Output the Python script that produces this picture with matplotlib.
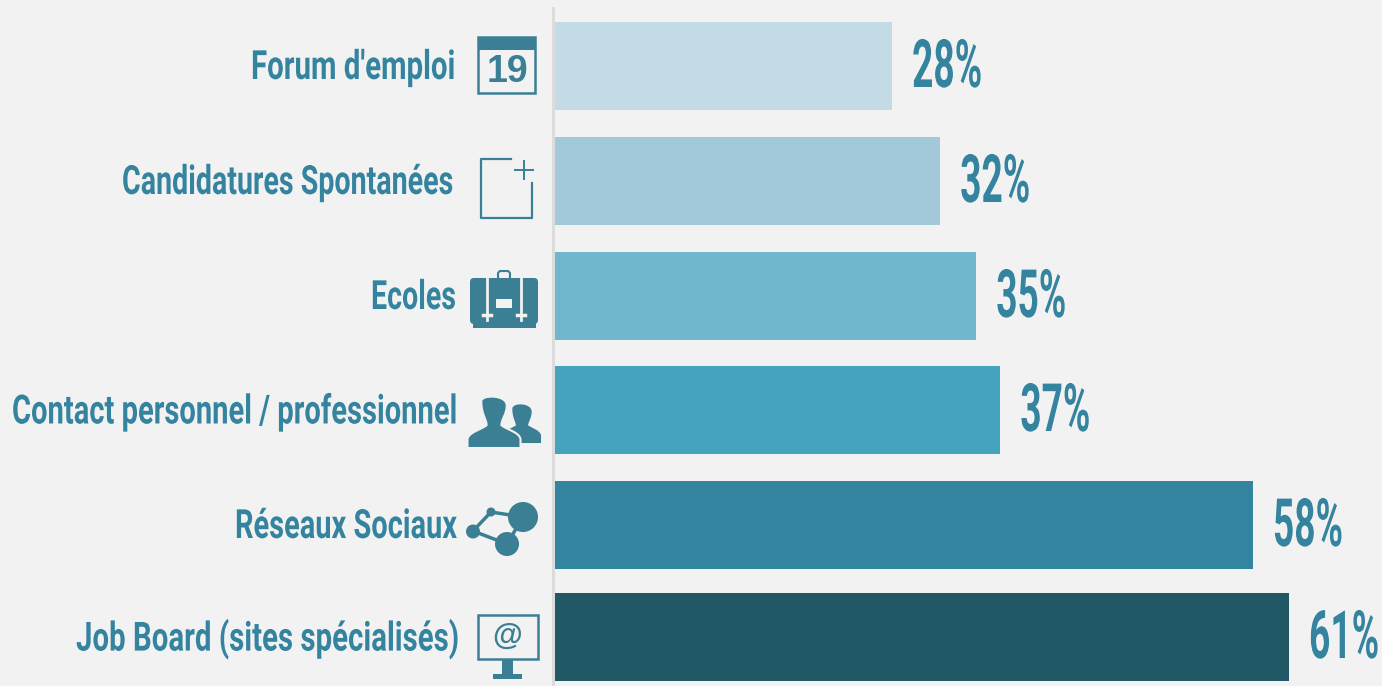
import matplotlib
matplotlib.use('Agg')
import matplotlib.pyplot as plt
from matplotlib.patches import Rectangle, Circle, FancyBboxPatch, PathPatch
from matplotlib.path import Path
from matplotlib.patheffects import AbstractPathEffect
from matplotlib.transforms import Affine2D

categories = ["Forum d'emploi", "Candidatures Spontanées", "Ecoles",
              "Contact personnel / professionnel", "Réseaux Sociaux",
              "Job Board (sites spécialisés)"]
values = [28, 32, 35, 37, 58, 61]
bar_colors = ['#c2dbe5', '#a2c9da', '#70b6ce', '#46a3bf', '#33849f', '#205866']

# layout, in pixels of the picture
bar_centers = [66, 181, 296, 410, 525, 637]
bar_height = 88
label_left = [251, 122, 371, 12, 235, 76]
label_right = [455, 453, 456, 457, 457, 459]
px_per_percent = 12.03

BG = '#f2f2f2'
TEXT = '#34849f'
ICON = '#3b7f95'
FONT = ['Roboto', 'Liberation Sans', 'DejaVu Sans']


class Squeeze(AbstractPathEffect):
    # narrows a text around its left edge, no condensed face is installed
    def __init__(self, x0, sx):
        super().__init__()
        self.x0 = x0
        self.sx = sx

    def draw_path(self, renderer, gc, tpath, affine, rgbFace=None):
        squeeze = Affine2D().translate(-self.x0, 0).scale(self.sx, 1).translate(self.x0, 0)
        renderer.draw_path(gc, tpath, affine + squeeze, rgbFace)


def fit_text(axis, x_left, width, y, s, size):
    t = axis.text(x_left, y, s, color=TEXT, fontsize=size, fontweight='bold',
                  family=FONT, ha='left', va='center', clip_on=False)
    natural = t.get_window_extent(fig.canvas.get_renderer()).width
    x0 = axis.transData.transform((x_left, y))[0]
    t.set_path_effects([Squeeze(x0, width / natural)])
    return t


fig = plt.figure(figsize=(13.82, 6.86), dpi=100, facecolor=BG)

# bars, x axis in percent
ax = fig.add_axes([555 / 1382, 0, 827 / 1382, 1])
ax.set_xlim(0, 827 / px_per_percent)
ax.set_ylim(686, 0)
ax.axis('off')
ax.barh(bar_centers, values, height=bar_height, color=bar_colors, linewidth=0)
for c, v in zip(bar_centers, values):
    fit_text(ax, v + 1.68, 70, c + 3, f'{v}%', 48)

# overlay in picture pixels for labels, divider and icons
ov = fig.add_axes([0, 0, 1, 1])
ov.set_xlim(0, 1382)
ov.set_ylim(686, 0)
ov.axis('off')
ov.patch.set_alpha(0)

ov.add_patch(Rectangle((552, 7), 3, 679, color='#dcdcdc', lw=0))

for name, c, l, r in zip(categories, bar_centers, label_left, label_right):
    fit_text(ov, l, r - l, c + 2, name, 29)


def calendar():
    ov.add_patch(Rectangle((478, 37), 57, 56, fc='none', ec=ICON, lw=1.8))
    ov.add_patch(Rectangle((478, 37), 57, 13, fc=ICON, lw=0))
    ov.text(507, 72, '19', color=ICON, fontsize=27, fontweight='bold',
            family=['Liberation Sans', 'DejaVu Sans'], ha='center', va='center')


def new_page():
    ov.plot([511, 481, 481, 532, 532], [159, 159, 218, 218, 183], color=ICON, lw=1.6)
    ov.plot([515, 533], [170, 170], color=ICON, lw=1.4)
    ov.plot([524, 524], [161, 179], color=ICON, lw=1.4)


def briefcase():
    ov.add_patch(FancyBboxPatch((470, 278), 68, 46, boxstyle='round,pad=0,rounding_size=4', fc=ICON, lw=0))
    ov.add_patch(Rectangle((473, 300), 63, 28, fc=ICON, lw=0))
    ov.add_patch(FancyBboxPatch((498, 271), 12, 9, boxstyle='round,pad=0,rounding_size=3', fc='none', ec=ICON, lw=1.5))
    for x in (487, 521):
        ov.plot([x, x], [278, 320], color=BG, lw=2)
        ov.plot([x - 4, x + 4], [315, 315], color=BG, lw=2.5)
    ov.add_patch(Rectangle((496, 299), 16, 9, fc=BG, lw=0))


def person(cx, top, w, h, edge):
    # head plus shoulders of one silhouette
    verts = [(cx - w * 0.24, top + h * 0.10),
             (cx - w * 0.24, top - h * 0.03), (cx + w * 0.24, top - h * 0.03), (cx + w * 0.24, top + h * 0.18),
             (cx + w * 0.24, top + h * 0.36), (cx + w * 0.14, top + h * 0.44), (cx + w * 0.14, top + h * 0.56),
             (cx + w * 0.22, top + h * 0.64), (cx + w * 0.50, top + h * 0.70), (cx + w * 0.50, top + h * 0.84),
             (cx + w * 0.50, top + h), (cx - w * 0.50, top + h),
             (cx - w * 0.50, top + h * 0.84),
             (cx - w * 0.50, top + h * 0.70), (cx - w * 0.22, top + h * 0.64), (cx - w * 0.14, top + h * 0.56),
             (cx - w * 0.14, top + h * 0.44), (cx - w * 0.24, top + h * 0.36), (cx - w * 0.24, top + h * 0.10),
             (cx - w * 0.24, top + h * 0.10)]
    codes = [Path.MOVETO] + [Path.CURVE4] * 3 + [Path.CURVE4] * 3 + [Path.CURVE4] * 3 + \
            [Path.LINETO] * 3 + [Path.CURVE4] * 3 + [Path.CURVE4] * 3 + [Path.CLOSEPOLY]
    ov.add_patch(PathPatch(Path(verts, codes), fc=ICON, ec=edge, lw=1.5))


def people():
    person(522, 405, 36, 37, ICON)
    person(494, 396, 53, 52, BG)


def network():
    xs = [473, 491, 523, 507, 473]
    ys = [531, 512, 517, 544, 531]
    ov.plot(xs, ys, color=ICON, lw=2.5)
    for x, y, r in [(523, 517, 15), (507, 544, 12), (473, 531.5, 7), (491, 512, 4.5)]:
        ov.add_patch(Circle((x, y), r, fc=ICON, lw=0))


def monitor():
    ov.add_patch(Rectangle((478, 615), 60, 44, fc='none', ec=ICON, lw=1.8))
    ov.add_patch(Rectangle((502, 659), 11, 15, fc=ICON, lw=0))
    ov.add_patch(Rectangle((493, 674), 29, 4.5, fc=ICON, lw=0))
    ov.text(507, 637, '@', color=ICON, fontsize=22, fontweight='bold',
            family=['Liberation Sans', 'DejaVu Sans'], ha='center', va='center')


calendar()
new_page()
briefcase()
people()
network()
monitor()

fig.savefig('out.png', dpi=100, facecolor=BG)
